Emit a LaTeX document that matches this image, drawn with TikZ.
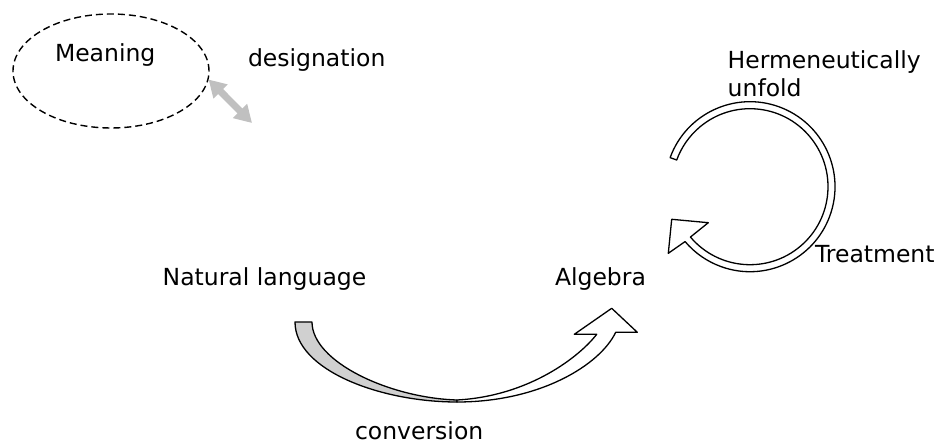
\documentclass[tikz,border=0pt]{standalone}
\usepackage{fontspec}
\setmainfont{DejaVu Sans}
\usetikzlibrary{arrows.meta,shapes.geometric,calc}
\definecolor{backgray}{RGB}{208,208,208}
\definecolor{desgray}{RGB}{192,192,192}
\tikzset{
  lbl/.style={anchor=base west, inner sep=0pt, outer sep=0pt, font=\fontsize{23.5}{28}\selectfont},
  blockarrow/.style={draw=black, line width=1.3pt, line join=round, fill=white},
  backside/.style={draw=black, line width=1.3pt, line join=round, fill=backgray},
  desarrow/.style={draw=desgray, line width=7pt, {Triangle[length=17pt,width=19pt]}-{Triangle[length=17pt,width=19pt]}}
}
\begin{document}
\begin{tikzpicture}[x=1pt,y=1pt]
\useasboundingbox (0,0) rectangle (944,444);
% ellipse around Meaning
\node[ellipse, draw, dash pattern=on 7pt off 4pt, line width=1.4pt, minimum width=196pt, minimum height=114pt, inner sep=0pt] (meaningEll) at (111,373) {};
\node[lbl] (meaning) at (55,382) {Meaning};
\node[lbl] (designation) at (248,377) {designation};
\coordinate (desEnd) at (252,321);
\draw[desarrow] (meaningEll.-5) -- (desEnd);
% texts
\node[lbl] (herm) at (727.7,375) {Hermeneutically};
\node[lbl] (unfold) at (727.7,347.3) {unfold};
\node[lbl] (natlang) at (162.7,158.3) {Natural language};
\node[lbl] (algebra) at (555,158.3) {Algebra};
\node[lbl] (treatment) at (815,181) {Treatment};
\node[lbl] (conversion) at (355,5) {conversion};
% circular arrow
\coordinate (cc) at (750,257.3);
\draw[blockarrow] ($(cc)+(160:85)$) arc[start angle=160, end angle=-139.8, radius=85]
  -- (668.3,190.7) -- (671.7,224.7) -- (708.3,221.3)
  -- ($(cc)+(-139.8:78)$) arc[start angle=-139.8, end angle=160, radius=78] -- cycle;
% conversion arrow: back side
\draw[backside] (295,122) -- (312,122) .. controls (312,82) and (390,46) .. (457,44)
  -- (457,42) .. controls (380,42) and (295,74) .. (295,122) -- cycle;
% conversion arrow: front side
\draw[blockarrow] (457,42) .. controls (540,42) and (600,79) .. (615.7,111.7)
  -- (637.3,111.7) -- (611.7,135.7) -- (574.3,109.7) -- (596.7,109.7)
  .. controls (580,88) and (530,48) .. (457,44) -- cycle;
\end{tikzpicture}
\end{document}
